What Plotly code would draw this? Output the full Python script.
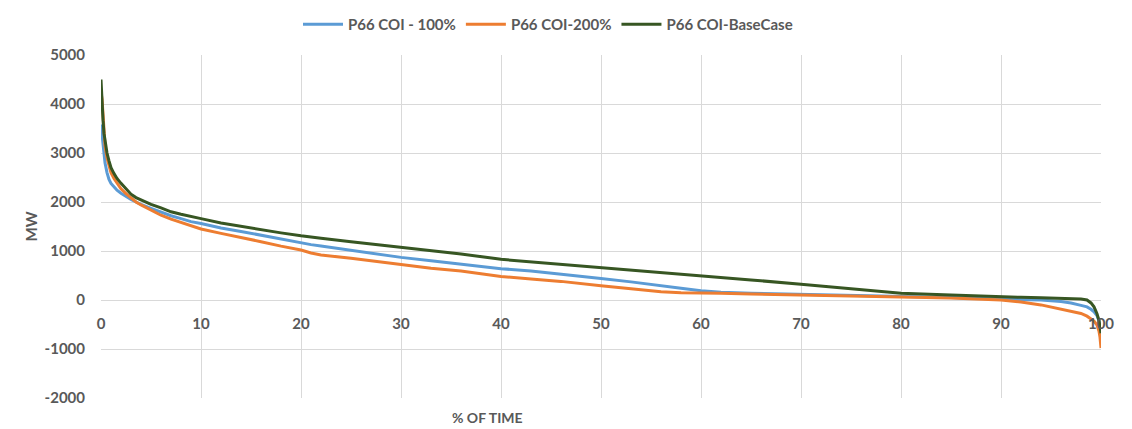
import plotly.graph_objects as go

pct_time = [0, 0.1, 0.2, 0.3, 0.4, 0.6, 0.8, 1.0, 1.3, 1.6, 2.0, 2.5, 3.0, 3.5, 4.0,
            5, 6, 7, 8, 9, 10, 12, 14, 16, 18, 20, 21, 22, 25, 28, 30, 33, 36, 40,
            43, 46, 50, 53, 56, 58, 60, 62, 65, 70, 75, 80, 85, 90, 92, 94, 96, 97,
            98, 98.6, 99.0, 99.3, 99.6, 99.8, 99.9, 100]

coi_100 = [3580, 3350, 3180, 2980, 2800, 2600, 2460, 2380, 2300, 2240, 2180, 2110, 2050, 2000, 1950,
           1870, 1790, 1720, 1660, 1600, 1560, 1470, 1400, 1320, 1240, 1160, 1130, 1100, 1010, 920, 870, 800, 730, 640,
           590, 530, 440, 370, 300, 240, 190, 160, 140, 120, 95, 70, 50, 20, 10, 0, -30, -60,
           -110, -140, -190, -240, -320, -420, -540, -600]

coi_200 = [4250, 4100, 3800, 3450, 3150, 2900, 2720, 2600, 2480, 2380, 2270, 2170, 2080, 2000, 1940,
           1830, 1730, 1650, 1580, 1510, 1450, 1360, 1280, 1190, 1100, 1020, 960, 920, 850, 770, 720, 650, 590, 480,
           430, 380, 290, 230, 170, 150, 150, 140, 120, 100, 85, 70, 40, 0, -40, -100, -190, -230,
           -275, -330, -380, -430, -510, -640, -760, -980]

coi_base = [4500, 4000, 3670, 3400, 3230, 3000, 2840, 2700, 2580, 2480, 2380, 2260, 2160, 2090, 2040,
            1950, 1880, 1800, 1750, 1700, 1660, 1570, 1500, 1440, 1370, 1310, 1290, 1260, 1190, 1120, 1070, 1000, 940, 830,
            780, 730, 660, 610, 570, 530, 500, 460, 410, 320, 230, 140, 100, 60, 55, 45, 35, 30,
            20, 0, -60, -140, -280, -420, -550, -680]

series_names = ["P66 COI - 100%", "P66 COI-200%", "P66 COI-BaseCase"]
x_ticks = [0, 10, 20, 30, 40, 50, 60, 70, 80, 90, 100]
y_ticks = [-2000, -1000, 0, 1000, 2000, 3000, 4000, 5000]

colors = ["#5B9BD5", "#ED7D31", "#375623"]
font_family = "Lato, 'Open Sans', sans-serif"
text_color = "#595959"

fig = go.Figure()
for name, vals, col in zip(series_names, [coi_100, coi_200, coi_base], colors):
    fig.add_trace(go.Scatter(x=pct_time, y=vals, mode="lines", name=name,
                             line=dict(color=col, width=3)))

fig.update_layout(
    width=1124, height=421,
    margin=dict(l=93, r=31, t=47, b=31, autoexpand=False),
    plot_bgcolor="white", paper_bgcolor="white",
    font=dict(family=font_family, color=text_color, size=14),
    showlegend=True,
    legend=dict(orientation="h", x=0.447, xanchor="center", y=1.137, yanchor="top",
                font=dict(size=15, color=text_color, weight="bold"),
                itemwidth=40, tracegroupgap=0, borderwidth=0),
    xaxis=dict(range=[0, 100], tickvals=x_ticks, ticktext=[str(v) for v in x_ticks],
               showgrid=True, gridcolor="#D9D9D9", gridwidth=1,
               zeroline=False, showline=False, anchor="free", position=2/7,
               ticks="", ticklabelstandoff=13,
               tickfont=dict(size=15, color=text_color, weight="bold")),
    yaxis=dict(range=[-2000, 5000], tickvals=y_ticks, ticktext=[str(v) for v in y_ticks],
               showgrid=True, gridcolor="#D9D9D9", gridwidth=1,
               zeroline=False, showline=False, ticks="", ticklabelstandoff=15,
               tickfont=dict(size=15, color=text_color, weight="bold")),
    annotations=[
        dict(text="MW", xref="paper", yref="paper", x=-0.071, y=0.5, textangle=-90,
             showarrow=False, font=dict(size=15, color=text_color, weight="bold"),
             xanchor="center", yanchor="middle"),
        dict(text="% OF TIME", xref="paper", yref="paper", x=0.386, y=-0.058,
             showarrow=False, font=dict(size=14, color=text_color, weight="bold"),
             xanchor="center", yanchor="middle"),
    ],
)

fig.write_html("out.html")
